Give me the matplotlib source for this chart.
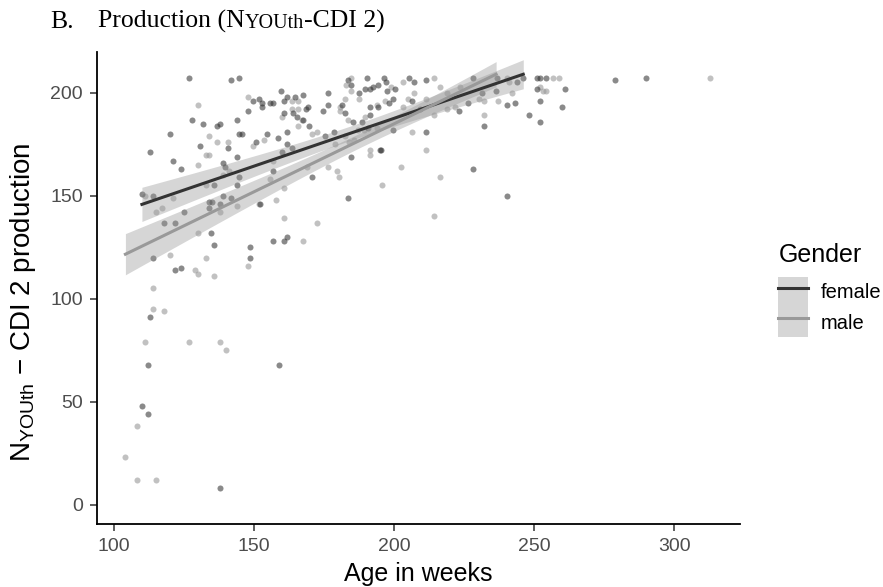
import matplotlib
matplotlib.use("Agg")
import matplotlib.pyplot as plt
import numpy as np
from matplotlib.patches import Patch
from matplotlib.lines import Line2D

plt.rcParams['font.family'] = ['Liberation Sans', 'DejaVu Sans']

# Data (age in weeks, N-YOUth CDI 2 production score)
female_age = [126.8, 141.7, 144.7, 149.5, 151.6, 152.7, 147.7, 127.8, 131.8, 136.7,
              137.9, 143.8, 119.9, 144.7, 145.6, 150.6, 112.9, 130.8, 140.8, 143.8,
              120.9, 138.8, 123.9, 139.7, 144.7, 135.8, 143.8, 109.9, 114.0, 138.8,
              141.7, 134.0, 134.9, 137.8, 133.8, 124.8, 117.9, 121.8, 134.7, 135.8,
              148.6, 114.0, 148.6, 121.8, 123.9, 112.9, 112.0, 158.8, 109.9, 112.0,
              137.8,
              156.6, 160.6, 161.6, 183.4, 170.5, 156.6, 184.5, 195.3,
              159.6, 164.6, 167.5, 161.6, 160.6, 152.7, 155.6, 156.8, 169.3, 168.4,
              160.6, 164.0, 165.2, 167.5, 169.6, 176.5, 174.5, 176.5, 181.2, 182.4,
              185.4, 183.6, 184.5, 187.5, 189.6, 191.4, 192.5, 190.4, 194.3, 196.4,
              197.1, 197.3, 200.3, 199.5, 198.3, 191.4, 194.3, 191.4, 188.4, 205.4,
              207.2, 206.3, 211.3, 199.5, 211.3, 154.7, 158.6, 161.6, 161.6, 163.5,
              175.3, 178.5, 190.8, 159.8, 152.1, 194.9,
              228.0, 236.8, 243.8, 246.1, 251.1, 252.1, 254.2, 251.1, 261.0, 231.3,
              236.4, 240.2, 243.1, 252.1, 260.0, 226.3, 223.3, 232.2, 248.1, 252.1,
              228.0, 240.2, 209.2, 278.9, 289.8]
female_score = [207, 206, 207, 196, 197, 193, 191, 187, 185, 184,
                185, 187, 180, 180, 180, 176, 171, 174, 173, 169,
                167, 166, 163, 164, 159, 155, 155, 151, 150, 150,
                149, 147, 147, 146, 144, 142, 137, 137, 132, 126,
                125, 120, 120, 114, 115, 91, 68, 68, 48, 44,
                8,
                128, 128, 130, 149, 159, 162, 169, 172,
                201, 198, 199, 198, 196, 195, 195, 195, 193, 192,
                190, 190, 188, 187, 184, 200, 191, 194, 194, 190,
                186, 206, 204, 200, 202, 202, 203, 207, 204, 207,
                205, 201, 202, 197, 195, 193, 193, 189, 186, 207,
                205, 196, 206, 182, 181, 180, 178, 181, 175, 173,
                179, 181, 183, 171, 146, 172,
                207, 207, 205, 207, 207, 207, 207, 202, 202, 200,
                201, 194, 195, 196, 193, 195, 191, 184, 189, 186,
                163, 150, 192, 206, 207]

male_age = [129.8, 147.7, 133.8, 136.7, 140.8, 149.7, 153.6, 132.8, 134.0, 129.8,
            140.9, 138.8, 132.8, 111.1, 121.1, 143.8, 137.8, 151.6, 117.0, 114.9,
            129.8, 119.9, 132.8, 128.9, 129.8, 135.8, 147.7, 114.0, 114.0, 117.9,
            111.0, 126.8, 137.8, 139.8, 108.0, 104.0, 108.0, 114.9,
            167.5, 160.6, 172.5, 157.7, 155.8, 180.4, 179.5, 176.5, 195.5, 202.3,
            206.3, 191.4, 191.4,
            163.5, 165.5, 165.8, 163.6, 167.0, 159.8, 165.5, 180.6, 182.4, 180.6,
            183.6, 184.6, 182.8, 184.5, 187.5, 198.8, 196.7, 193.8, 189.6, 203.3,
            207.2, 205.0, 203.3, 211.3, 170.5, 172.5, 178.9, 182.4, 183.9, 185.6,
            187.2, 189.2, 193.8, 156.8, 160.6, 168.8,
            214.3, 216.4, 218.8, 211.4, 240.4, 241.1, 256.8, 259.0, 252.1, 253.3,
            254.2, 242.0, 237.2, 232.2, 230.2, 232.2, 216.4, 214.3, 218.8, 214.3,
            221.7, 223.5, 312.7]
male_score = [194, 198, 179, 176, 176, 174, 177, 170, 170, 165,
              162, 160, 155, 150, 149, 145, 142, 146, 144, 142,
              132, 121, 120, 114, 112, 111, 116, 105, 95, 94,
              79, 79, 79, 75, 38, 23, 12, 12,
              128, 139, 137, 148, 158, 159, 162, 164, 155, 164,
              181, 170, 172,
              196, 196, 192, 192, 187, 188, 184, 191, 197, 193,
              187, 207, 204, 201, 197, 203, 196, 194, 188, 205,
              200, 197, 193, 172, 180, 181, 175, 179, 176, 177,
              182, 182, 183, 167, 154, 164,
              207, 203, 200, 197, 207, 205, 207, 207, 203, 201,
              201, 200, 196, 196, 197, 189, 159, 140, 192, 189,
              193, 203, 207]

# linear trend lines: end points (age, score)
female_line_age = [109.9, 246.1]
female_line_score = [145.8, 209.0]
male_line_age = [104.0, 236.4]
male_line_score = [121.6, 209.0]
# confidence band: half-width at the left end, narrowest half-width and where it sits
female_band = [8.3, 3.5, 185.0]
male_band = [10.0, 3.5, 190.0]

x_ticks = [100, 150, 200, 250, 300]
y_ticks = [0, 50, 100, 150, 200]


def trend(line_age, line_score, band):
    xs = np.linspace(line_age[0], line_age[1], 100)
    fit = np.interp(xs, line_age, line_score)
    h_end, h_min, x_mid = band
    rel = (xs - x_mid) / (line_age[0] - x_mid)
    half = np.sqrt(h_min ** 2 + (h_end ** 2 - h_min ** 2) * rel ** 2)
    return xs, fit, fit - half, fit + half


fig = plt.figure(figsize=(8.83, 5.87), dpi=100)
ax = fig.add_axes([96.7 / 883, 1 - 524 / 587, (740 - 96.7) / 883, (524 - 52) / 587])

ax.scatter(male_age, male_score, s=19, color='#999999', alpha=0.6, lw=0, zorder=2)
ax.scatter(female_age, female_score, s=19, color='#2a2a2a', alpha=0.55, lw=0, zorder=2)

for la, ls, band, col in [(female_line_age, female_line_score, female_band, '#333333'),
                          (male_line_age, male_line_score, male_band, '#999999')]:
    xs, fit, lo, hi = trend(la, ls, band)
    ax.fill_between(xs, lo, hi, color='#999999', alpha=0.4, lw=0, zorder=3)
    ax.plot(xs, fit, color=col, lw=2.2, zorder=4)

ax.set_xlim(93.75, 323.5)
ax.set_ylim(-9.4, 219.8)
ax.set_xticks(x_ticks)
ax.set_yticks(y_ticks)
for side in ['top', 'right']:
    ax.spines[side].set_visible(False)
for side in ['left', 'bottom']:
    ax.spines[side].set_linewidth(1.3)
ax.tick_params(length=5, width=1.1, color='#333333', labelcolor='#4d4d4d',
               labelsize=14, pad=5)

ax.set_xlabel('Age in weeks', fontsize=18, labelpad=5)
ax.set_ylabel('N$_{\\mathregular{YOUth}}$ \u2212 CDI 2 production', fontsize=20)
ax.yaxis.set_label_coords(-0.091, 0.47)

handles = [(Patch(facecolor='#999999', alpha=0.4, edgecolor='none'),
            Line2D([], [], color='#333333', lw=2.2)),
           (Patch(facecolor='#999999', alpha=0.4, edgecolor='none'),
            Line2D([], [], color='#999999', lw=2.2))]
fig.legend(handles, ['female', 'male'], loc='upper left',
           bbox_to_anchor=(778 / 883, 1 - 277 / 587), frameon=False, borderaxespad=0,
           fontsize=14.5, handlelength=1.5, handleheight=1.92,
           labelspacing=0, handletextpad=0.6, borderpad=0)
fig.text(779 / 883, 1 - 262 / 587, 'Gender', fontsize=18, va='baseline', ha='left')

# panel title with the small "YOUth" part
serif = dict(family='Liberation Serif', color='black', va='baseline')
base_y = 1 - 28 / 587
fig.text(50 / 883, base_y, 'B.', size=18.5, **serif)
t2 = fig.text(98 / 883, base_y, 'Production (N', size=18.5, **serif)
fig.canvas.draw()
x1 = t2.get_window_extent().x1
t3 = fig.text(x1 / 883, base_y, 'YOUth', size=14.5, **serif)
fig.canvas.draw()
x2 = t3.get_window_extent().x1
fig.text(x2 / 883, base_y, '-CDI 2)', size=18.5, **serif)

fig.savefig('out.png', dpi=100)
